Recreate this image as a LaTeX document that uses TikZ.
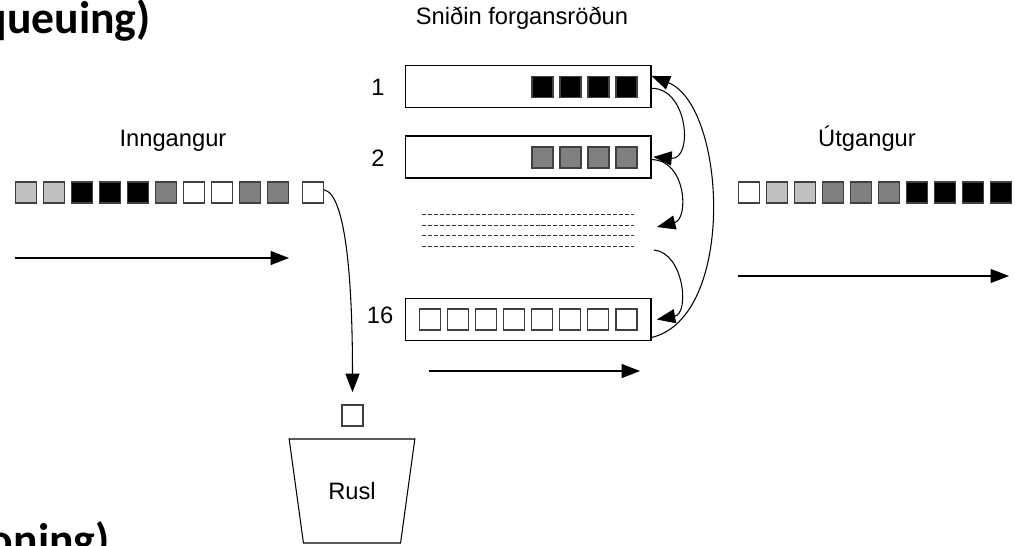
\documentclass[tikz,border=0pt]{standalone}
\usepackage{fontspec}
\setmainfont{Liberation Sans}
\newfontfamily\headfont{Carlito}
\usepackage{tikz}
\usetikzlibrary{shapes.geometric,arrows.meta,positioning}
\definecolor{pktlight}{HTML}{C0C0C0}
\definecolor{pktmid}{HTML}{808080}
\tikzstyle{queue} = [draw, rectangle, minimum width=4.92cm, minimum height=0.84cm, fill=white, line width=0.6pt]
\tikzstyle{pkt} = [draw=black!75, rectangle, minimum size=0.42cm, inner sep=0pt, line width=0.6pt]
\tikzstyle{lbl} = [font=\fontsize{13.5}{16}\selectfont, inner sep=0pt]
\tikzstyle{heading} = [font=\headfont\bfseries\fontsize{26}{30}\selectfont, inner sep=0pt]
\tikzstyle{bin} = [trapezium, draw, shape border rotate=180, trapezium angle=73.4, trapezium stretches=true,
minimum width=2.52cm, minimum height=2.08cm, line width=0.6pt, font=\fontsize{13.5}{16}\selectfont]
\tikzstyle{flowArrow} = [line width=0.6pt, -{Triangle[length=10.5pt,width=8pt]}]
\tikzstyle{gap} = [dash pattern=on 2.3pt off 1.1pt, line width=0.5pt, black!80]

\begin{document}
\begin{tikzpicture}[x=0.02cm, y=-0.02cm]
		\useasboundingbox (0,0) rectangle (1015,546);
		\clip (0,0) rectangle (1015,546);
		%headings
		\node[heading, anchor=base east](headtop) at (151,34) {queuing)};
		\node[heading, anchor=base east](headbottom) at (110,556) {oning)};

		%texts
		\node[lbl, anchor=base](sched) at (522,25) {Sniðin forgansröðun};
		\node[lbl, anchor=base](inlbl) at (173,147) {Inngangur};
		\node[lbl, anchor=base](outlbl) at (867,147) {Útgangur};

		%queues
		\node[queue](q1) at (528,86.5) {};
		\node[queue](q2) at (528,157) {};
		\node[queue](q16) at (528,319.5) {};
		\node[lbl, anchor=base](n1) at (378,96) {1};
		\node[lbl, anchor=base](n2) at (378,167) {2};
		\node[lbl, anchor=base](n16) at (380,323.5) {16};
		\foreach \i in {0,...,3}{
			\node[pkt, fill=black](q1p\i) at (626.5-28*\i,87) {};
			\node[pkt, fill=pktmid](q2p\i) at (626.5-28*\i,157.5) {};
		}
		\foreach \i in {0,...,7}
			\node[pkt, fill=white](q16p\i) at (626.5-28.1*\i,319.5) {};
		\foreach \y in {214,225,235,246}
			\draw[gap] (422,\y) -- (634,\y);
		\coordinate (gapin) at (657,227);
		\coordinate (gapout) at (654,250);

		%incoming and outgoing packets
		\foreach \c [count=\i from 0] in {pktlight,pktlight,black,black,black,pktmid,white,white,pktmid,pktmid}
			\node[pkt, fill=\c](in\i) at (26+28*\i,192.5) {};
		\node[pkt, fill=white](drop) at (313,192.5) {};
		\foreach \c [count=\i from 0] in {white,pktlight,pktlight,pktmid,pktmid,pktmid,black,black,black,black}
			\node[pkt, fill=\c](out\i) at (749+28*\i,192.5) {};

		%discard
		\node[pkt, fill=white](dropped) at (352.5,415.5) {};
		\node[bin](rusl) at (352,491) {Rusl};

		%arrows
		\coordinate (inA) at (15,258);
		\coordinate (inB) at (289,258);
		\coordinate (outA) at (738,276);
		\coordinate (outB) at (1009,276);
		\coordinate (qA) at (429,371);
		\coordinate (qB) at (640,371);
		\draw[flowArrow](inA)--(inB);
		\draw[flowArrow](outA)--(outB);
		\draw[flowArrow](qA)--(qB);
		\draw[flowArrow]([yshift=1.5pt]drop.east) .. controls +(22,4) and +(0,-110) .. ([yshift=7pt]dropped.north);
		\draw[flowArrow]([yshift=-1pt]q1.east) .. controls +(37,0) and +(40,3) .. ([xshift=1pt]q2.east);
		\draw[flowArrow]([yshift=-1.5pt]q2.east) .. controls +(35,0) and +(32,-8) .. (gapin);
		\draw[flowArrow](gapout) .. controls +(30,3) and +(33,-6) .. ([xshift=3pt]q16.east);
		\draw[flowArrow]([yshift=2pt]q16.south east) .. controls +(85,-20) and +(75,30) .. ([yshift=6pt]q1.east);
	\end{tikzpicture}
\end{document}
